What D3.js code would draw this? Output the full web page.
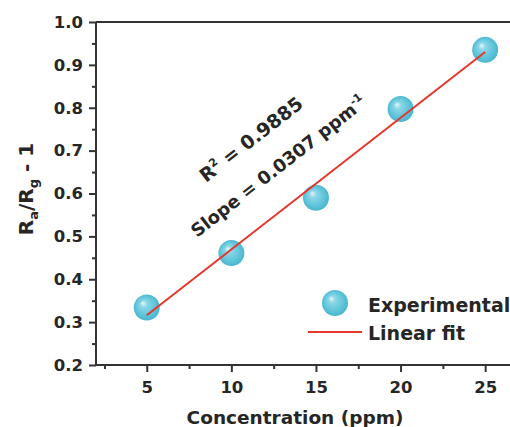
<!DOCTYPE html>
<html>
<head>
<meta charset="utf-8">
<script src="https://cdn.jsdelivr.net/npm/d3@7"></script>
<style>
  body { margin: 0; background: #fff; }
  svg text { font-family: "DejaVu Sans", sans-serif; font-weight: bold; fill: #262626; }
</style>
</head>
<body>
<svg id="chart" width="510" height="427"></svg>
<script>
// data
const concentration = [5, 10, 15, 20, 25];
const response = [0.334, 0.461, 0.590, 0.797, 0.935];
const fitX = [5, 25];
const fitY = [0.316, 0.930];
const xTicks = [5, 10, 15, 20, 25];
const xMinor = [2.5, 7.5, 12.5, 17.5, 22.5];
const yTicks = [0.2, 0.3, 0.4, 0.5, 0.6, 0.7, 0.8, 0.9, 1.0];
const yMinor = [0.25, 0.35, 0.45, 0.55, 0.65, 0.75, 0.85, 0.95];

const svg = d3.select('#chart');
const plotL = 96, plotR = 519, plotT = 22, plotB = 365;
const axisColor = '#333';

const x = d3.scaleLinear().domain([2, 27]).range([plotL, plotR]);
const y = d3.scaleLinear().domain([0.2, 1.0]).range([plotB, plotT]);

// sphere look for markers
const defs = svg.append('defs');
const grad = defs.append('radialGradient')
    .attr('id', 'ball')
    .attr('cx', '50%').attr('cy', '50%').attr('r', '55%')
    .attr('fx', '35%').attr('fy', '32%');
grad.append('stop').attr('offset', '0%').attr('stop-color', '#e4f7fb');
grad.append('stop').attr('offset', '25%').attr('stop-color', '#8ad6e6');
grad.append('stop').attr('offset', '70%').attr('stop-color', '#5cc3d9');
grad.append('stop').attr('offset', '100%').attr('stop-color', '#45b1c9');

// frame (top / right)
svg.append('path')
    .attr('d', `M${plotL},${plotT}H${plotR}V${plotB}`)
    .attr('fill', 'none')
    .attr('stroke', axisColor)
    .attr('stroke-width', 2);

// x axis
const gx = svg.append('g').attr('transform', `translate(0,${plotB})`);
gx.call(d3.axisBottom(x).tickValues(xTicks).tickSize(7).tickPadding(9).tickSizeOuter(0));
gx.append('g').call(d3.axisBottom(x).tickValues(xMinor).tickSize(4).tickFormat(''))
  .select('.domain').remove();
gx.selectAll('.domain').attr('stroke', axisColor).attr('stroke-width', 2).attr('d', `M${plotL},0H${plotR}`);
gx.selectAll('.tick line').attr('stroke', axisColor).attr('stroke-width', 2);
gx.selectAll('.tick text')
    .attr('font-size', 16.5)
    .attr('font-family', '"DejaVu Sans", sans-serif')
    .attr('fill', '#262626');

// y axis
const gy = svg.append('g').attr('transform', `translate(${plotL},0)`);
gy.call(d3.axisLeft(y).tickValues(yTicks).tickSize(7).tickPadding(6).tickSizeOuter(0).tickFormat(d3.format('.1f')));
gy.append('g').call(d3.axisLeft(y).tickValues(yMinor).tickSize(4).tickFormat(''))
  .select('.domain').remove();
gy.selectAll('.domain').attr('stroke', axisColor).attr('stroke-width', 2).attr('d', `M0,${plotB}V${plotT}`);
gy.selectAll('.tick line').attr('stroke', axisColor).attr('stroke-width', 2);
gy.selectAll('.tick text')
    .attr('font-size', 16.5)
    .attr('font-family', '"DejaVu Sans", sans-serif')
    .attr('fill', '#262626');

// axis titles
svg.append('text')
    .attr('x', 295).attr('y', 424)
    .attr('text-anchor', 'middle')
    .attr('font-size', 18.5)
    .text('Concentration (ppm)');

const yl = svg.append('text')
    .attr('transform', 'translate(33,189) rotate(-90)')
    .attr('text-anchor', 'middle')
    .attr('font-size', 20);
yl.append('tspan').text('R');
yl.append('tspan').attr('font-size', 13).attr('dy', 5).text('a');
yl.append('tspan').attr('dy', -5).text('/R');
yl.append('tspan').attr('font-size', 13).attr('dy', 5).text('g');
yl.append('tspan').attr('dy', -5).text(' - 1');

// markers
svg.append('g')
  .selectAll('circle')
  .data(concentration.map((c, i) => ({x: c, y: response[i]})))
  .enter().append('circle')
    .attr('cx', d => x(d.x))
    .attr('cy', d => y(d.y))
    .attr('r', 13)
    .attr('fill', 'url(#ball)');

// linear fit
const line = d3.line().x(d => x(d[0])).y(d => y(d[1]));
svg.append('path')
    .datum(fitX.map((v, i) => [v, fitY[i]]))
    .attr('d', line)
    .attr('fill', 'none')
    .attr('stroke', '#e5372c')
    .attr('stroke-width', 2);

// annotations
const ang = -38;
const r2 = svg.append('text')
    .attr('transform', `translate(${x(8.5)},${y(0.6245)}) rotate(${ang})`)
    .attr('font-size', 19);
r2.append('tspan').text('R');
r2.append('tspan').attr('font-size', 11).attr('dy', -8).text('2');
r2.append('tspan').attr('dy', 8).text(' = 0.9885');

const sl = svg.append('text')
    .attr('transform', `translate(${x(7.97)},${y(0.496)}) rotate(${ang})`)
    .attr('font-size', 18);
sl.append('tspan').text('Slope = 0.0307 ppm');
sl.append('tspan').attr('font-size', 11).attr('dy', -8).text('-1');

// legend
const lg = svg.append('g');
lg.append('circle')
    .attr('cx', 335).attr('cy', 303).attr('r', 13)
    .attr('fill', 'url(#ball)');
lg.append('text')
    .attr('x', 368).attr('y', 312)
    .attr('font-size', 19)
    .text('Experimental');
lg.append('line')
    .attr('x1', 308).attr('x2', 362)
    .attr('y1', 332).attr('y2', 332)
    .attr('stroke', '#e5372c')
    .attr('stroke-width', 2);
lg.append('text')
    .attr('x', 368).attr('y', 340)
    .attr('font-size', 19)
    .text('Linear fit');
</script>
</body>
</html>
